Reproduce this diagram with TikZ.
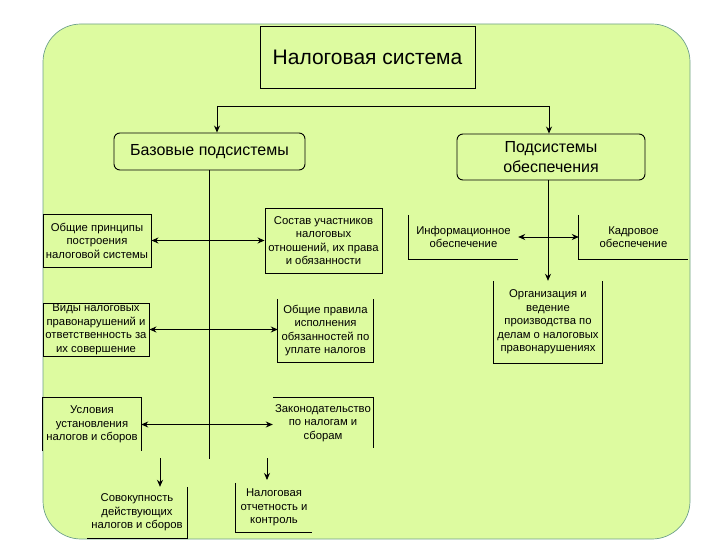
\documentclass[tikz,border=0pt]{standalone}
\usepackage{fontspec}
\setmainfont{Liberation Sans}
\usetikzlibrary{arrows.meta}
\definecolor{bggreen}{RGB}{221,251,160}
\definecolor{bgline}{RGB}{110,160,140}
\begin{document}
\begin{tikzpicture}[x=1pt,y=-1pt,
  box/.style={inner sep=0pt, align=center, font=\fontsize{11.3}{13.5}\selectfont},
  framed/.style={box, draw, line width=0.9pt},
  rim/.style={line width=0.9pt},
  arr/.style={line width=0.9pt, -{Stealth[length=7pt,width=6pt]}},
  darr/.style={line width=0.9pt, {Stealth[length=7pt,width=6pt]}-{Stealth[length=7pt,width=6pt]}}]
\useasboundingbox (0,0) rectangle (720,540);
% background panel
\draw[fill=bggreen, draw=bgline, line width=0.7pt, rounded corners=38pt] (43,24) rectangle (690,539);

% top level
\node[framed, minimum width=215pt, minimum height=62pt, font=\fontsize{21}{25}\selectfont] (title) at (367.5,57) {Налоговая система};
\node[framed, rounded corners=6pt, minimum width=191pt, minimum height=37pt, font=\fontsize{16}{20}\selectfont] (base) at (209.5,151.5) {Базовые подсистемы};
\node[framed, rounded corners=6pt, minimum width=188pt, minimum height=46pt, font=\fontsize{16}{20}\selectfont] (prov) at (551,157) {Подсистемы\\обеспечения};

\coordinate (j1) at (217,106);
\coordinate (j2) at (549,106);
\draw[rim] (j1) -- (j2);
\draw[arr] (j1) -- (j1 |- base.north);
\draw[arr] (j2) -- (j2 |- prov.north);

% base subsystems
\node[framed, minimum width=108pt, minimum height=53pt] (L1) at (97,240.5) {Общие принципы\\построения\\налоговой системы};
\node[framed, minimum width=117pt, minimum height=65pt] (R1) at (323.5,240.5) {Состав участников\\налоговых\\отношений, их права\\и обязанности};
\node[framed, minimum width=106pt, minimum height=53pt] (L2) at (96,329.5) {Виды налоговых\\правонарушений и\\ответственность за\\их совершение};
\node[box, minimum width=95pt, minimum height=63pt] (R2) at (325.5,330.5) {Общие правила\\исполнения\\обязанностей по\\уплате налогов};
\draw[rim] (R2.north west) -- (R2.south west) -- (R2.south east) -- (R2.north east);
\node[box, minimum width=98pt, minimum height=53pt] (L3) at (92,424.5) {Условия\\установления\\налогов и сборов};
\draw[rim] (L3.south west) -- (L3.north west) -- (L3.north east) -- (L3.south east);
\node[box, minimum width=100pt, minimum height=50pt] (R3) at (323,423) {Законодательство\\по налогам и\\сборам};
\draw[rim] (R3.north west) -- (R3.north east) -- (R3.south east);
\node[box, minimum width=100pt, minimum height=51pt] (B1) at (137,512.5) {Совокупность\\действующих\\налогов и сборов};
\draw[rim] (B1.north east) -- (B1.south east) -- (B1.south west);
\node[box, minimum width=76pt, minimum height=49pt] (B2) at (274,507.5) {Налоговая\\отчетность и\\контроль};
\draw[rim] (B2.north west) -- (B2.south west) -- (B2.south east);

\coordinate (bEnd) at (base.south |- 0,459);
\draw[rim] (base.south) -- (bEnd);
\draw[darr] (L1.east) -- (R1.west |- L1.east);
\draw[darr] (L2.east) -- (R2.west |- L2.east);
\draw[darr] (L3.east) -- (R3.west |- L3.east);
\coordinate (a1) at (160,458);
\coordinate (a2) at (267,458);
\draw[arr] (a1) -- (a1 |- B1.north);
\draw[arr] (a2) -- (a2 |- 0,480);

% provision subsystems
\node[box, minimum width=109pt, minimum height=44pt] (P1) at (463.5,237) {Информационное\\обеспечение};
\draw[rim] (P1.north west) -- (P1.south west) -- (P1.south east);
\node[box, minimum width=109pt, minimum height=44pt] (P2) at (633.5,237) {Кадровое\\обеспечение};
\draw[rim] (P2.north west) -- (P2.south west) -- (P2.south east);
\node[box, minimum width=108pt, minimum height=82pt] (P3) at (548,322) {Организация и\\ведение\\производства по\\делам о налоговых\\правонарушениях};
\draw[rim] (P3.north west) -- (P3.south west) -- (P3.south east) -- (P3.north east);
\draw[darr] (P1.east) -- (P2.west);
\draw[arr] (prov.south -| P3.north) -- (P3.north);
\end{tikzpicture}
\end{document}
